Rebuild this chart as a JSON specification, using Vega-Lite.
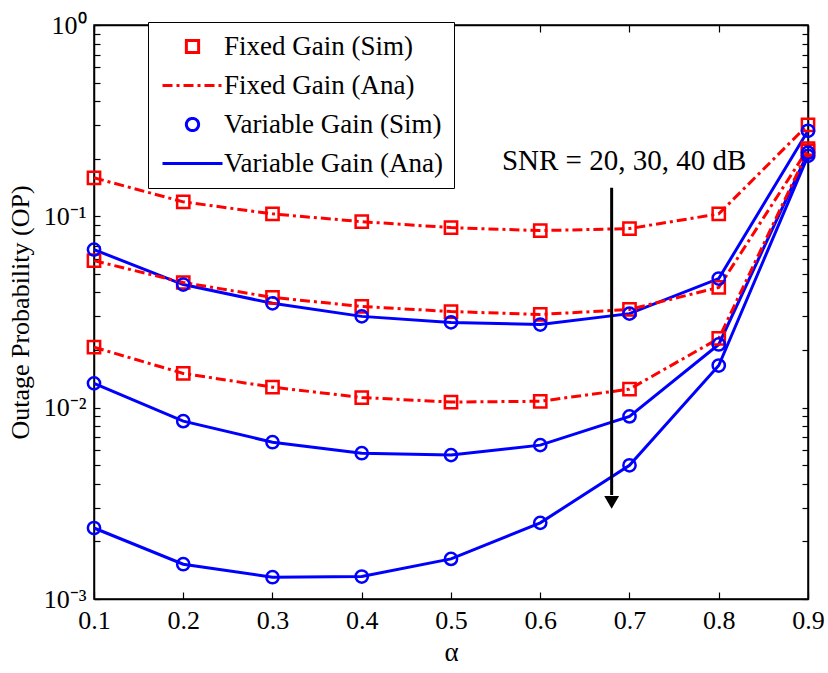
{
  "$schema": "https://vega.github.io/schema/vega-lite/v6.json",
  "autosize": {"type": "none"},
  "width": 714,
  "height": 574,
  "padding": {"left": 94, "top": 25, "right": 20, "bottom": 74},
  "background": "white",
  "config": {
    "view": {"stroke": "black", "strokeWidth": 1.5},
    "font": "Liberation Serif",
    "axis": {
      "domainColor": "black",
      "domainWidth": 1.5,
      "tickColor": "black",
      "tickWidth": 1.2,
      "labelFont": "Liberation Serif",
      "labelColor": "black",
      "titleFont": "Liberation Serif",
      "titleColor": "black",
      "titleFontWeight": "normal",
      "grid": false
    }
  },
  "datasets": {
    "curves": [
      {"alpha": 0.1, "snr": 20, "sim": "Fixed Gain (Sim)", "ana": "Fixed Gain (Ana)", "op": 0.159},
      {"alpha": 0.2, "snr": 20, "sim": "Fixed Gain (Sim)", "ana": "Fixed Gain (Ana)", "op": 0.119},
      {"alpha": 0.3, "snr": 20, "sim": "Fixed Gain (Sim)", "ana": "Fixed Gain (Ana)", "op": 0.103},
      {"alpha": 0.4, "snr": 20, "sim": "Fixed Gain (Sim)", "ana": "Fixed Gain (Ana)", "op": 0.0938},
      {"alpha": 0.5, "snr": 20, "sim": "Fixed Gain (Sim)", "ana": "Fixed Gain (Ana)", "op": 0.0873},
      {"alpha": 0.6, "snr": 20, "sim": "Fixed Gain (Sim)", "ana": "Fixed Gain (Ana)", "op": 0.0842},
      {"alpha": 0.7, "snr": 20, "sim": "Fixed Gain (Sim)", "ana": "Fixed Gain (Ana)", "op": 0.0863},
      {"alpha": 0.8, "snr": 20, "sim": "Fixed Gain (Sim)", "ana": "Fixed Gain (Ana)", "op": 0.103},
      {"alpha": 0.9, "snr": 20, "sim": "Fixed Gain (Sim)", "ana": "Fixed Gain (Ana)", "op": 0.301},
      {"alpha": 0.1, "snr": 30, "sim": "Fixed Gain (Sim)", "ana": "Fixed Gain (Ana)", "op": 0.0587},
      {"alpha": 0.2, "snr": 30, "sim": "Fixed Gain (Sim)", "ana": "Fixed Gain (Ana)", "op": 0.0451},
      {"alpha": 0.3, "snr": 30, "sim": "Fixed Gain (Sim)", "ana": "Fixed Gain (Ana)", "op": 0.0377},
      {"alpha": 0.4, "snr": 30, "sim": "Fixed Gain (Sim)", "ana": "Fixed Gain (Ana)", "op": 0.0338},
      {"alpha": 0.5, "snr": 30, "sim": "Fixed Gain (Sim)", "ana": "Fixed Gain (Ana)", "op": 0.0318},
      {"alpha": 0.6, "snr": 30, "sim": "Fixed Gain (Sim)", "ana": "Fixed Gain (Ana)", "op": 0.0307},
      {"alpha": 0.7, "snr": 30, "sim": "Fixed Gain (Sim)", "ana": "Fixed Gain (Ana)", "op": 0.0326},
      {"alpha": 0.8, "snr": 30, "sim": "Fixed Gain (Sim)", "ana": "Fixed Gain (Ana)", "op": 0.0425},
      {"alpha": 0.9, "snr": 30, "sim": "Fixed Gain (Sim)", "ana": "Fixed Gain (Ana)", "op": 0.2256},
      {"alpha": 0.1, "snr": 40, "sim": "Fixed Gain (Sim)", "ana": "Fixed Gain (Ana)", "op": 0.0207},
      {"alpha": 0.2, "snr": 40, "sim": "Fixed Gain (Sim)", "ana": "Fixed Gain (Ana)", "op": 0.0151},
      {"alpha": 0.3, "snr": 40, "sim": "Fixed Gain (Sim)", "ana": "Fixed Gain (Ana)", "op": 0.0128},
      {"alpha": 0.4, "snr": 40, "sim": "Fixed Gain (Sim)", "ana": "Fixed Gain (Ana)", "op": 0.0113},
      {"alpha": 0.5, "snr": 40, "sim": "Fixed Gain (Sim)", "ana": "Fixed Gain (Ana)", "op": 0.0107},
      {"alpha": 0.6, "snr": 40, "sim": "Fixed Gain (Sim)", "ana": "Fixed Gain (Ana)", "op": 0.0108},
      {"alpha": 0.7, "snr": 40, "sim": "Fixed Gain (Sim)", "ana": "Fixed Gain (Ana)", "op": 0.0125},
      {"alpha": 0.8, "snr": 40, "sim": "Fixed Gain (Sim)", "ana": "Fixed Gain (Ana)", "op": 0.023},
      {"alpha": 0.9, "snr": 40, "sim": "Fixed Gain (Sim)", "ana": "Fixed Gain (Ana)", "op": 0.22},
      {"alpha": 0.1, "snr": 20, "sim": "Variable Gain (Sim)", "ana": "Variable Gain (Ana)", "op": 0.067},
      {"alpha": 0.2, "snr": 20, "sim": "Variable Gain (Sim)", "ana": "Variable Gain (Ana)", "op": 0.044},
      {"alpha": 0.3, "snr": 20, "sim": "Variable Gain (Sim)", "ana": "Variable Gain (Ana)", "op": 0.0351},
      {"alpha": 0.4, "snr": 20, "sim": "Variable Gain (Sim)", "ana": "Variable Gain (Ana)", "op": 0.030},
      {"alpha": 0.5, "snr": 20, "sim": "Variable Gain (Sim)", "ana": "Variable Gain (Ana)", "op": 0.0279},
      {"alpha": 0.6, "snr": 20, "sim": "Variable Gain (Sim)", "ana": "Variable Gain (Ana)", "op": 0.0272},
      {"alpha": 0.7, "snr": 20, "sim": "Variable Gain (Sim)", "ana": "Variable Gain (Ana)", "op": 0.031},
      {"alpha": 0.8, "snr": 20, "sim": "Variable Gain (Sim)", "ana": "Variable Gain (Ana)", "op": 0.0473},
      {"alpha": 0.9, "snr": 20, "sim": "Variable Gain (Sim)", "ana": "Variable Gain (Ana)", "op": 0.28},
      {"alpha": 0.1, "snr": 30, "sim": "Variable Gain (Sim)", "ana": "Variable Gain (Ana)", "op": 0.0134},
      {"alpha": 0.2, "snr": 30, "sim": "Variable Gain (Sim)", "ana": "Variable Gain (Ana)", "op": 0.0085},
      {"alpha": 0.3, "snr": 30, "sim": "Variable Gain (Sim)", "ana": "Variable Gain (Ana)", "op": 0.0066},
      {"alpha": 0.4, "snr": 30, "sim": "Variable Gain (Sim)", "ana": "Variable Gain (Ana)", "op": 0.00578},
      {"alpha": 0.5, "snr": 30, "sim": "Variable Gain (Sim)", "ana": "Variable Gain (Ana)", "op": 0.00565},
      {"alpha": 0.6, "snr": 30, "sim": "Variable Gain (Sim)", "ana": "Variable Gain (Ana)", "op": 0.00637},
      {"alpha": 0.7, "snr": 30, "sim": "Variable Gain (Sim)", "ana": "Variable Gain (Ana)", "op": 0.009},
      {"alpha": 0.8, "snr": 30, "sim": "Variable Gain (Sim)", "ana": "Variable Gain (Ana)", "op": 0.0214},
      {"alpha": 0.9, "snr": 30, "sim": "Variable Gain (Sim)", "ana": "Variable Gain (Ana)", "op": 0.215},
      {"alpha": 0.1, "snr": 40, "sim": "Variable Gain (Sim)", "ana": "Variable Gain (Ana)", "op": 0.00235},
      {"alpha": 0.2, "snr": 40, "sim": "Variable Gain (Sim)", "ana": "Variable Gain (Ana)", "op": 0.00152},
      {"alpha": 0.3, "snr": 40, "sim": "Variable Gain (Sim)", "ana": "Variable Gain (Ana)", "op": 0.0013},
      {"alpha": 0.4, "snr": 40, "sim": "Variable Gain (Sim)", "ana": "Variable Gain (Ana)", "op": 0.00131},
      {"alpha": 0.5, "snr": 40, "sim": "Variable Gain (Sim)", "ana": "Variable Gain (Ana)", "op": 0.00162},
      {"alpha": 0.6, "snr": 40, "sim": "Variable Gain (Sim)", "ana": "Variable Gain (Ana)", "op": 0.0025},
      {"alpha": 0.7, "snr": 40, "sim": "Variable Gain (Sim)", "ana": "Variable Gain (Ana)", "op": 0.005},
      {"alpha": 0.8, "snr": 40, "sim": "Variable Gain (Sim)", "ana": "Variable Gain (Ana)", "op": 0.0166},
      {"alpha": 0.9, "snr": 40, "sim": "Variable Gain (Sim)", "ana": "Variable Gain (Ana)", "op": 0.207}
    ],
    "arrow": [
      {"alpha": 0.68, "top": 0.141, "bottom": 0.0035, "tip": 0.0032}
    ],
    "note": [
      {"alpha": 0.694, "op": 0.195, "label": "SNR = 20, 30, 40 dB"}
    ]
  },
  "resolve": {"axis": {"x": "independent", "y": "independent"}},
  "layer": [
    {
      "data": {"name": "curves"},
      "transform": [{"filter": "datum.ana == 'Variable Gain (Ana)'"}],
      "mark": {"type": "line", "strokeWidth": 3},
      "encoding": {
        "x": {
          "field": "alpha", "type": "quantitative",
          "scale": {"domain": [0.1, 0.9], "nice": false, "zero": false},
          "axis": {
            "orient": "bottom", "title": "α", "titleFontSize": 27, "titlePadding": 6,
            "values": [0.1, 0.2, 0.3, 0.4, 0.5, 0.6, 0.7, 0.8, 0.9], "format": ".1f",
            "labelFontSize": 26, "tickSize": -7, "labelPadding": 15, "labelFlush": false, "labelOverlap": false
          }
        },
        "y": {
          "field": "op", "type": "quantitative",
          "scale": {"type": "log", "domain": [0.001, 1], "nice": false},
          "axis": {
            "orient": "left", "title": "Outage Probability (OP)", "titleFontSize": 26, "titlePadding": 10,
            "values": [0.001, 0.002, 0.003, 0.004, 0.005, 0.006, 0.007, 0.008, 0.009, 0.01, 0.02, 0.03, 0.04, 0.05, 0.06, 0.07, 0.08, 0.09, 0.1, 0.2, 0.3, 0.4, 0.5, 0.6, 0.7, 0.8, 0.9, 1],
            "labelExpr": "datum.value==1?'10⁰':datum.value==0.1?'10⁻¹':datum.value==0.01?'10⁻²':datum.value==0.001?'10⁻³':''",
            "labelFontSize": 26, "tickSize": -6, "labelPadding": 14, "labelFlush": false, "labelOverlap": false
          }
        },
        "color": {
          "field": "ana", "type": "nominal",
          "scale": {
            "domain": ["Fixed Gain (Sim)", "Fixed Gain (Ana)", "Variable Gain (Sim)", "Variable Gain (Ana)"],
            "range": ["#ff0000", "#ff0000", "#0000ff", "#0000ff"]
          },
          "legend": {
            "title": null, "orient": "none", "legendX": 54, "legendY": -3,
            "labelFont": "Liberation Serif", "labelFontSize": 27, "labelColor": "black", "labelLimit": 400,
            "strokeColor": "black", "fillColor": "white", "padding": 11, "rowPadding": 11,
            "symbolType": "stroke", "symbolSize": 400, "symbolStrokeWidth": 3,
            "symbolOffset": 20, "labelOffset": 18,
            "encode": {
              "symbols": {
                "update": {
                  "shape": {"signal": "datum.value == 'Fixed Gain (Sim)' ? 'square' : (datum.value == 'Variable Gain (Sim)' ? 'circle' : 'stroke')"},
                  "size": {"signal": "datum.value == 'Fixed Gain (Ana)' || datum.value == 'Variable Gain (Ana)' ? 3600 : 150"},
                  "strokeDash": {"signal": "datum.value == 'Fixed Gain (Ana)' ? [10, 4, 3, 4] : [1, 0]"},
                  "fill": {"value": "transparent"}
                }
              }
            }
          }
        },
        "detail": {"field": "snr", "type": "nominal"}
      }
    },
    {
      "data": {"name": "curves"},
      "transform": [{"filter": "datum.ana == 'Fixed Gain (Ana)'"}],
      "mark": {"type": "line", "strokeWidth": 3, "strokeDash": [10, 4, 3, 4]},
      "encoding": {
        "x": {"field": "alpha", "type": "quantitative", "axis": null},
        "y": {"field": "op", "type": "quantitative", "axis": null},
        "color": {"field": "ana", "type": "nominal", "legend": null},
        "detail": {"field": "snr", "type": "nominal"}
      }
    },
    {
      "data": {"name": "curves"},
      "mark": {"type": "point", "filled": false, "strokeWidth": 2.5, "size": 150, "opacity": 1},
      "encoding": {
        "x": {
          "field": "alpha", "type": "quantitative",
          "axis": {"orient": "top", "title": null, "labels": false, "tickSize": -7, "values": [0.1, 0.2, 0.3, 0.4, 0.5, 0.6, 0.7, 0.8, 0.9]}
        },
        "y": {
          "field": "op", "type": "quantitative",
          "axis": {
            "orient": "right", "title": null, "labels": false, "tickSize": -6,
            "values": [0.001, 0.002, 0.003, 0.004, 0.005, 0.006, 0.007, 0.008, 0.009, 0.01, 0.02, 0.03, 0.04, 0.05, 0.06, 0.07, 0.08, 0.09, 0.1, 0.2, 0.3, 0.4, 0.5, 0.6, 0.7, 0.8, 0.9, 1]
          }
        },
        "color": {"field": "sim", "type": "nominal", "legend": null},
        "shape": {
          "field": "sim", "type": "nominal",
          "scale": {"domain": ["Fixed Gain (Sim)", "Variable Gain (Sim)"], "range": ["square", "circle"]},
          "legend": null
        }
      }
    },
    {
      "data": {"name": "arrow"},
      "mark": {"type": "rule", "color": "black", "strokeWidth": 3},
      "encoding": {
        "x": {"field": "alpha", "type": "quantitative", "axis": null},
        "y": {"field": "top", "type": "quantitative", "axis": null},
        "y2": {"field": "bottom"}
      }
    },
    {
      "data": {"name": "arrow"},
      "mark": {"type": "point", "shape": "triangle-down", "filled": true, "color": "black", "size": 220, "opacity": 1},
      "encoding": {
        "x": {"field": "alpha", "type": "quantitative", "axis": null},
        "y": {"field": "tip", "type": "quantitative", "axis": null}
      }
    },
    {
      "data": {"name": "note"},
      "mark": {"type": "text", "font": "Liberation Serif", "fontSize": 29, "color": "black", "align": "center", "baseline": "middle"},
      "encoding": {
        "x": {"field": "alpha", "type": "quantitative", "axis": null},
        "y": {"field": "op", "type": "quantitative", "axis": null},
        "text": {"field": "label"}
      }
    }
  ]
}
